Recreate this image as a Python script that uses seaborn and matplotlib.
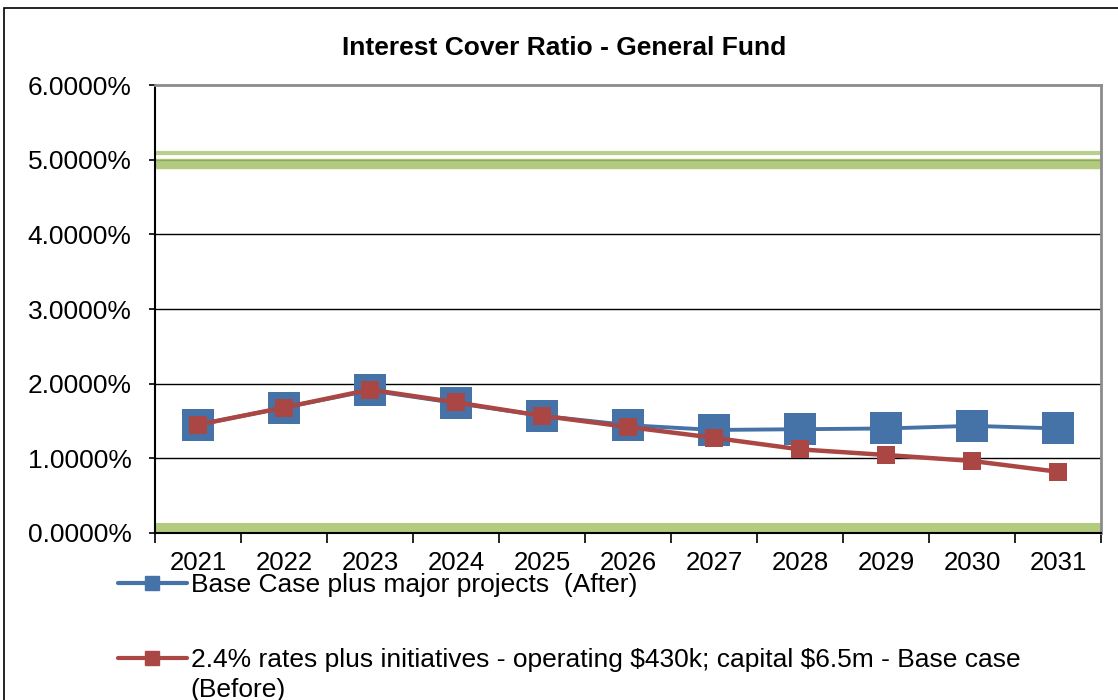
import matplotlib
matplotlib.use("Agg")
import matplotlib.pyplot as plt
from matplotlib.lines import Line2D
from matplotlib.patches import Rectangle
import seaborn as sns
import pandas as pd

years = ["2021", "2022", "2023", "2024", "2025", "2026", "2027", "2028", "2029", "2030", "2031"]
after_vals = [1.45, 1.68, 1.91, 1.74, 1.57, 1.445, 1.38, 1.39, 1.40, 1.435, 1.40]
before_vals = [1.45, 1.68, 1.92, 1.75, 1.57, 1.42, 1.275, 1.12, 1.045, 0.965, 0.82]
after_label = "Base Case plus major projects  (After)"
before_label = "2.4% rates plus initiatives - operating \\$430k; capital \\$6.5m - Base case"
before_label_cont = "(Before)"
title = "Interest Cover Ratio - General Fund"
yticks = [0, 1, 2, 3, 4, 5, 6]

sns.set_theme(style="white")
plt.rcParams['font.family'] = ['Liberation Sans', 'DejaVu Sans']
plt.rcParams['text.color'] = 'black'
plt.rcParams['xtick.color'] = 'black'
plt.rcParams['ytick.color'] = 'black'

df = pd.DataFrame({"year": years, "x": range(len(years)), "after": after_vals, "before": before_vals})

fig = plt.figure(figsize=(11.18, 7.0), dpi=100)
ax = fig.add_axes([155/1118, 1 - 533/700, (1101 - 155)/1118, (533 - 85)/700])

# outer chart frame
fig.patches.append(Rectangle((4/1118, -0.05), 1.2, 1 - 8/700 + 0.05, transform=fig.transFigure,
                             fill=False, edgecolor="black", linewidth=1.2, zorder=0))

# gridlines
for v in [1, 2, 3, 4, 5]:
    ax.axhline(v, color="black", linewidth=1.0, zorder=1)

# green limit bands
ax.axhline(5.085, color="#B9D08C", linewidth=3.0, zorder=2)
ax.axhline(4.94, color="#B2CB7F", linewidth=7.5, zorder=2)
ax.axhline(4.995, color="#8DA860", linewidth=1.0, zorder=2)
ax.axhline(0.065, color="#B2CB7F", linewidth=8.0, zorder=2)
ax.axhline(0.005, color="#8DA860", linewidth=1.0, zorder=2)

blue = "#4572A7"
red = "#AA4643"
sns.lineplot(data=df, x="x", y="after", ax=ax, color=blue, linewidth=2.8, marker="s",
             markersize=23, markeredgewidth=0, zorder=3, legend=False)
sns.lineplot(data=df, x="x", y="before", ax=ax, color=red, linewidth=3.2, marker="s",
             markersize=13, markeredgewidth=0, zorder=4, legend=False)

ax.set_xlim(-0.5, len(years) - 0.5)
ax.set_ylim(0, 6)
ax.set_yticks(yticks)
ax.set_yticklabels([f"{v:.4f}%" for v in yticks], fontsize=19)
ax.set_xticks(range(len(years)))
ax.set_xticklabels(years, fontsize=18.5)
ax.set_xticks([i - 0.5 for i in range(len(years) + 1)], minor=True)
ax.tick_params(axis="x", which="major", length=0, pad=13)
ax.tick_params(axis="x", which="minor", length=7, width=1.2, color="black", direction="out", bottom=True)
ax.tick_params(axis="y", which="major", length=4, width=1.2, color="black", direction="out", left=True, pad=13)
ax.set_xlabel("")
ax.set_ylabel("")

for s in ["top", "right"]:
    ax.spines[s].set_color("#8C8C8C")
    ax.spines[s].set_linewidth(2.0)
for s in ["left", "bottom"]:
    ax.spines[s].set_color("black")
    ax.spines[s].set_linewidth(1.5)

fig.text(564/1118, 1 - 48/700, title, ha="center", va="center", fontsize=19, fontweight="bold")

handles = [Line2D([0], [0], color=blue, linewidth=3, marker="s", markersize=10),
           Line2D([0], [0], color=red, linewidth=3, marker="s", markersize=10)]
leg = fig.legend(handles, [after_label, before_label], loc="upper left",
                 bbox_to_anchor=(118/1118, 1 - 573/700), frameon=False, fontsize=19,
                 handlelength=2.6, handletextpad=0.15, labelspacing=1.95, borderaxespad=0,
                 borderpad=0)
fig.text(190/1118, 1 - 690/700, before_label_cont, ha="left", va="center", fontsize=19)
fig.savefig("out.png", dpi=100)
